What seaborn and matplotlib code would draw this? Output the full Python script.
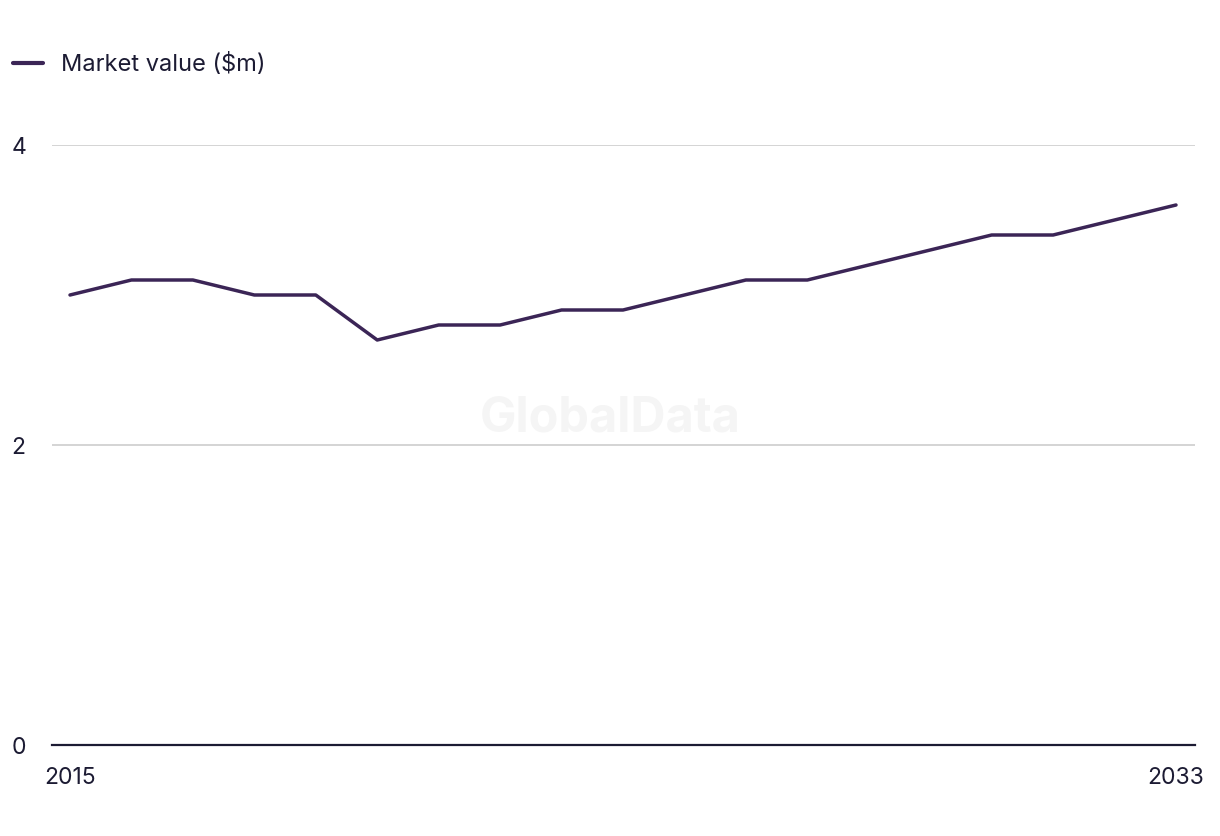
import matplotlib
matplotlib.use("Agg")
import matplotlib.pyplot as plt
import seaborn as sns
import pandas as pd

years = list(range(2015, 2034))
market_value = [3.0, 3.1, 3.1, 3.0, 3.0, 2.7, 2.8, 2.8, 2.9, 2.9,
                3.0, 3.1, 3.1, 3.2, 3.3, 3.4, 3.4, 3.5, 3.6]
series_name = "Market value ($m)"
y_ticks = [0, 2, 4]
x_ticks = [2015, 2033]

df = pd.DataFrame({"Year": years, "Value": market_value, "Series": series_name})

sns.set_theme(style="white")
plt.rcParams['font.family'] = ['Inter', 'DejaVu Sans']
text_color = "#1c1b33"
line_color = "#3b2556"

fig = plt.figure(figsize=(12.2, 8.36), dpi=100)
ax = fig.add_axes([52/1220, 91/836, 1143/1220, 600/836])

sns.lineplot(data=df, x="Year", y="Value", hue="Series", palette=[line_color],
             linewidth=2.5, ax=ax, legend=False)

ax.set_xlim(2015 - 18/61.44, 2033 + 19/61.44)
ax.set_ylim(0, 4)
ax.set_yticks(y_ticks)
ax.set_xticks(x_ticks)
ax.set_xticklabels([str(x) for x in x_ticks])
ax.set_yticklabels([str(y) for y in y_ticks])
ax.set_xlabel("")
ax.set_ylabel("")
for s in ["top", "right", "left"]:
    ax.spines[s].set_visible(False)
ax.spines["bottom"].set_color(text_color)
ax.spines["bottom"].set_linewidth(1.6)
ax.yaxis.grid(True, color="#d4d4d4", linewidth=1.4)
ax.set_axisbelow(True)
ax.tick_params(axis="y", length=0, pad=29, labelsize=16.5, labelcolor=text_color)
ax.tick_params(axis="x", length=0, pad=16, labelsize=16.5, labelcolor=text_color)
for lbl in ax.get_yticklabels():
    lbl.set_horizontalalignment("left")

fig.text(0.5, 0.5, "GlobalData", ha="center", va="center", fontsize=35,
         fontweight="bold", color="#f5f5f5", zorder=0)

from matplotlib.lines import Line2D
handle = Line2D([], [], color=line_color, linewidth=3)
fig.legend([handle], [series_name], loc="upper left", bbox_to_anchor=(-0.007, 0.962),
           frameon=False, fontsize=17, handlelength=1.3, handletextpad=0.75,
           labelcolor=text_color)

fig.savefig("out.png", dpi=100)
